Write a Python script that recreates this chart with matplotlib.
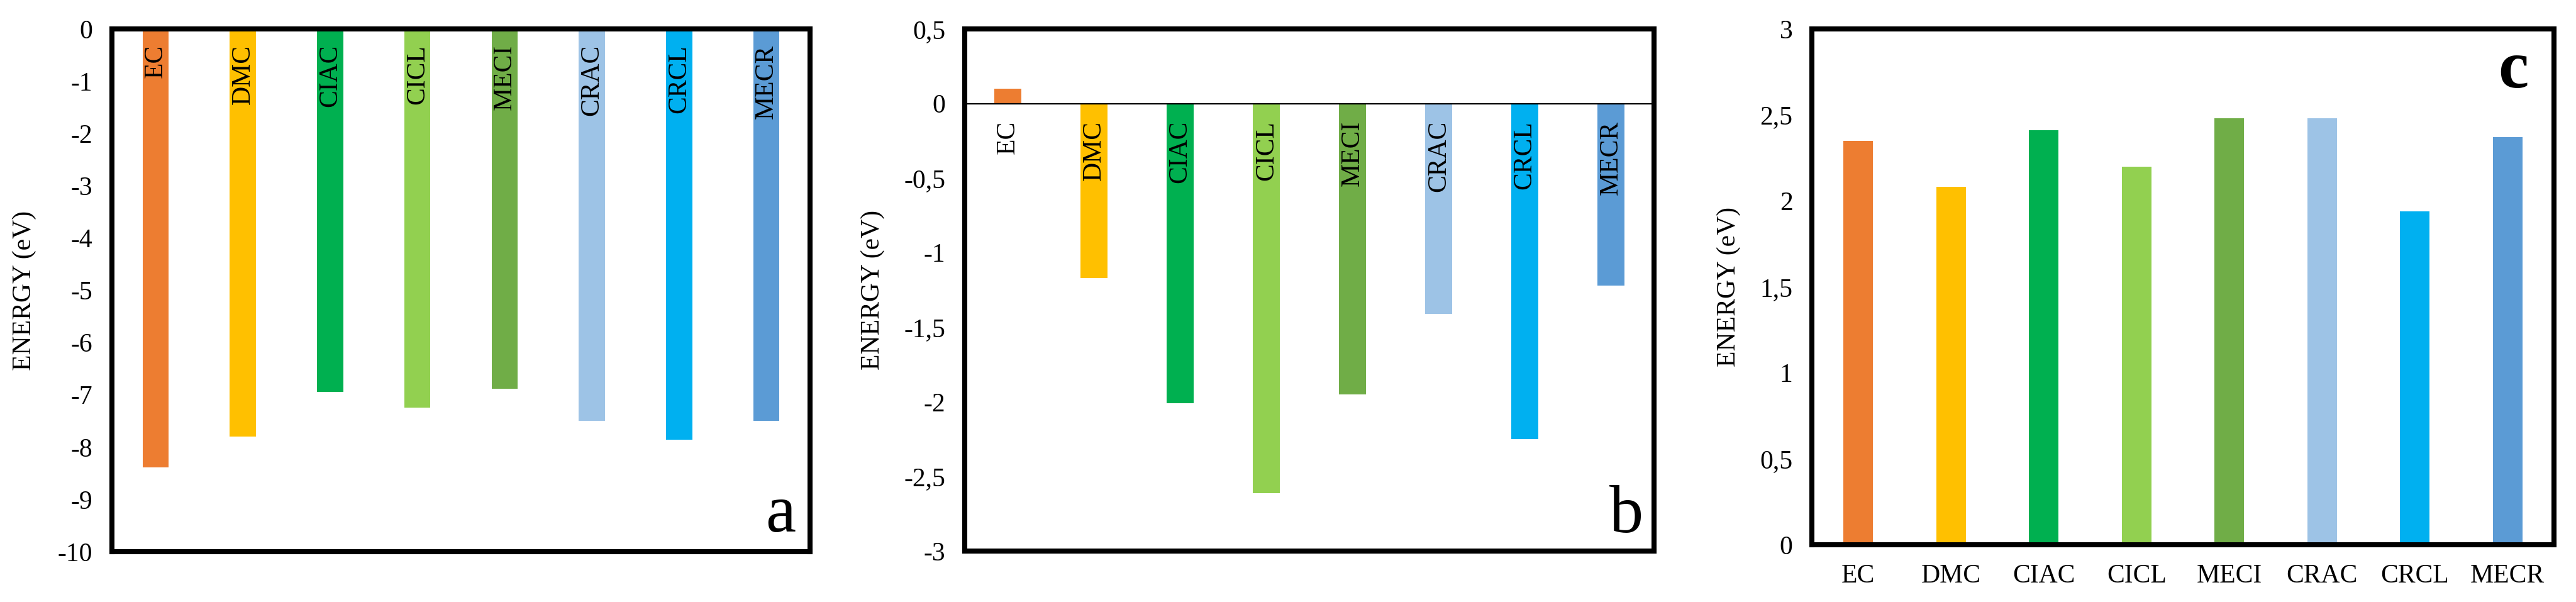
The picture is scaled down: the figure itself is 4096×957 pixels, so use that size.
import matplotlib
matplotlib.use("Agg")
import matplotlib.pyplot as plt
from matplotlib.ticker import FuncFormatter

categories = ["EC", "DMC", "CIAC", "CICL", "MECI", "CRAC", "CRCL", "MECR"]
colors = ["#ED7D31", "#FFC000", "#00B050", "#92D050", "#70AD47", "#9DC3E6", "#00B0F0", "#5B9BD5"]

values_a = [-8.39, -7.80, -6.94, -7.24, -6.88, -7.50, -7.86, -7.50]
values_b = [0.10, -1.17, -2.01, -2.61, -1.95, -1.41, -2.25, -1.22]
values_c = [2.35, 2.08, 2.41, 2.20, 2.48, 2.48, 1.94, 2.37]

ticks_a = [0, -1, -2, -3, -4, -5, -6, -7, -8, -9, -10]
ticks_b = [0.5, 0, -0.5, -1, -1.5, -2, -2.5, -3]
ticks_c = [0, 0.5, 1, 1.5, 2, 2.5, 3]

plt.rcParams['font.family'] = ['Liberation Serif', 'DejaVu Serif']

W, H = 4096, 957
fig = plt.figure(figsize=(W / 100, H / 100), dpi=100)

def px_axes(l, r, t, b):
    return fig.add_axes([l / W, (H - b) / H, (r - l) / W, (b - t) / H])

ax_a = px_axes(178, 1288, 46, 877)
ax_b = px_axes(1534, 2630, 46, 876)
ax_c = px_axes(2881, 4061, 46, 866)

fmt = FuncFormatter(lambda v, p: (("%g" % v).replace(".", ",")))

FS = 30
x = list(range(len(categories)))

def style(ax, ticks, ylim, ylabel_x):
    ax.set_xlim(-0.5, len(categories) - 0.5)
    ax.set_ylim(*ylim)
    ax.set_yticks(ticks)
    ax.yaxis.set_major_formatter(fmt)
    ax.tick_params(axis='y', length=0, pad=22, labelsize=FS)
    for s in ax.spines.values():
        s.set_linewidth(5.8)
        s.set_color("black")
        s.set_zorder(5)
    ax.set_ylabel("ENERGY (eV)", fontsize=FS)
    ax.yaxis.set_label_coords(ylabel_x, 0.5)

# Panel a
ax_a.bar(x, values_a, width=0.30, color=colors, zorder=2)
style(ax_a, ticks_a, (-10, 0), -0.108)
ax_a.set_xticks([])
for xi, lab in zip(x, categories):
    ax_a.text(xi, -0.3, lab, rotation=90, ha='center', va='top', fontsize=FS, zorder=3)
ax_a.text(0.958, 0.038, "a", transform=ax_a.transAxes, ha='center', va='baseline', fontsize=78)

# Panel b
ax_b.bar(x, values_b, width=0.31, color=colors, zorder=2)
style(ax_b, ticks_b, (-3, 0.5), -0.116)
ax_b.set_xticks([])
ax_b.axhline(0, color='black', lw=1.6, zorder=3)
for xi, lab in zip(x, categories):
    ax_b.text(xi, -0.115, lab, rotation=90, ha='center', va='top', fontsize=FS, zorder=3)
ax_b.text(0.96, 0.036, "b", transform=ax_b.transAxes, ha='center', va='baseline', fontsize=78)

# Panel c
ax_c.bar(x, values_c, width=0.32, color=colors, zorder=2)
style(ax_c, ticks_c, (0, 3), -0.096)
ax_c.set_xticks(x)
ax_c.set_xticklabels(categories)
ax_c.tick_params(axis='x', length=0, pad=22, labelsize=FS)
ax_c.text(0.945, 0.887, "c", transform=ax_c.transAxes, ha='center', va='baseline', fontsize=78, fontweight='bold')

fig.savefig("out.png", dpi=100)
